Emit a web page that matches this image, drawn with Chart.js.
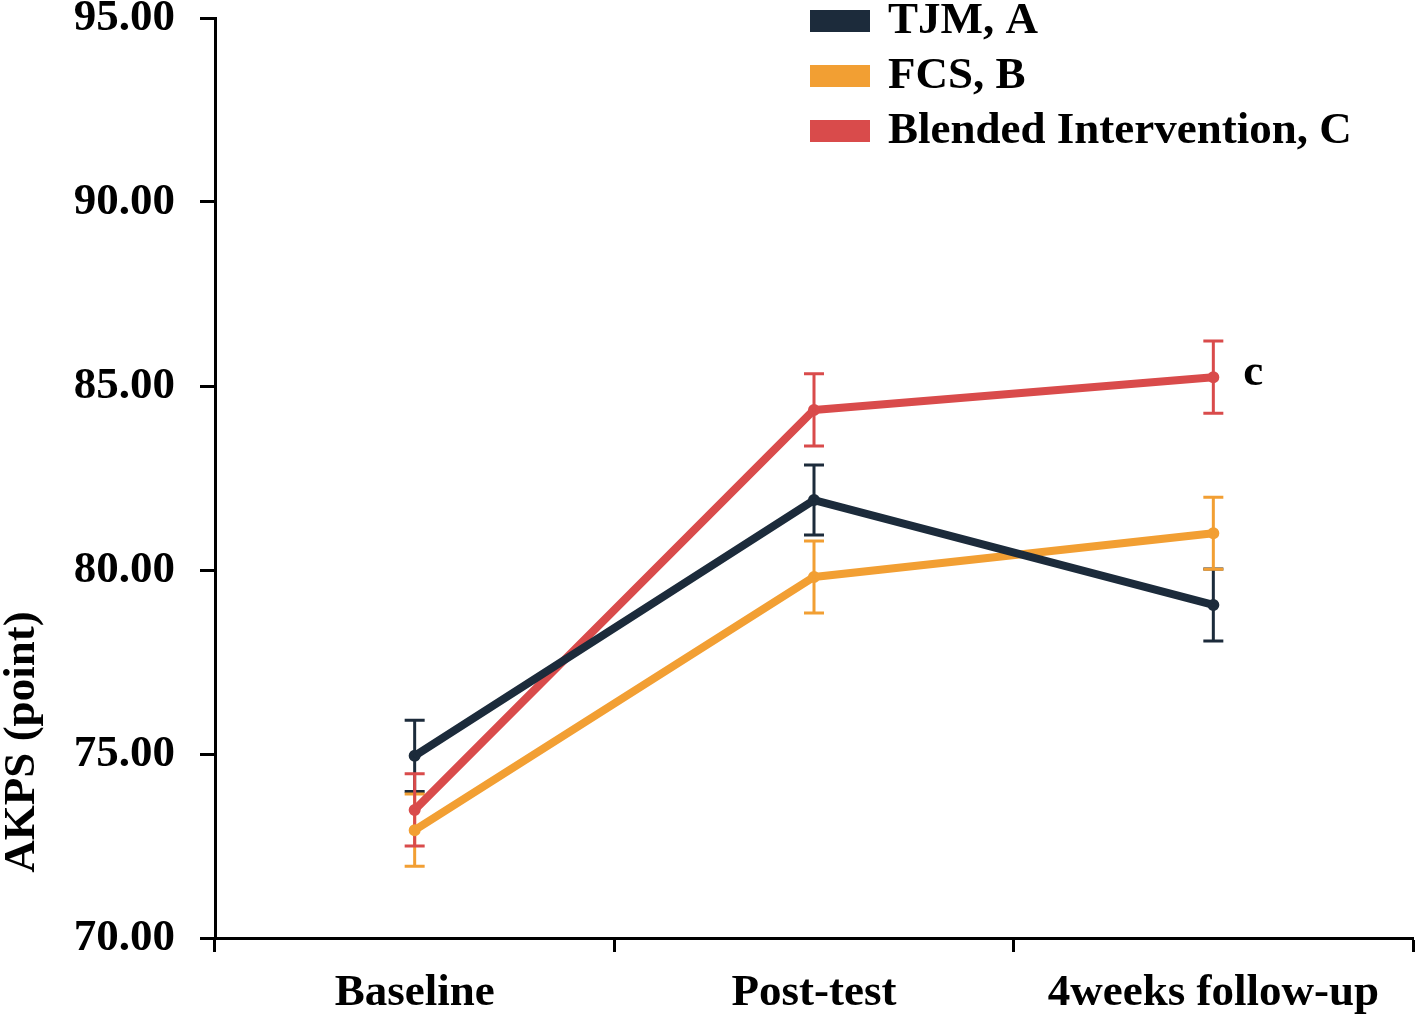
<!DOCTYPE html>
<html lang="en">
<head>
    <meta charset="UTF-8">
    <title>AKPS</title>
    <script src="https://cdn.jsdelivr.net/npm/chart.js"></script>
    <style>
        html, body { margin: 0; padding: 0; background: #ffffff; }
        #wrap { width: 1416px; height: 1016px; }
    </style>
</head>
<body>
    <div id="wrap">
        <canvas id="grafico" width="1416" height="1016"></canvas>
    </div>

<script>
    // dados
    const momentos = ['Baseline', 'Post-test', '4weeks follow-up'];
    const nomesSeries = ['TJM, A', 'FCS, B', 'Blended Intervention, C'];
    const coresSeries = ['#1c2b3b', '#f29f33', '#d94b4b'];

    const tjm = [74.95, 81.9, 79.05];
    const fcs = [72.93, 79.81, 81.0];
    const blended = [73.48, 84.35, 85.24];

    const erroTjm = [0.97, 0.95, 0.98];
    const erroFcs = [0.98, 0.98, 0.98];
    const erroBlended = [0.98, 0.98, 0.98];

    const ticksY = [70, 75, 80, 85, 90, 95];
    const anotacao = 'c';

    const fonte = '"Liberation Serif", "Times New Roman", serif';

    // barras de erro, desenhadas antes das linhas
    const barrasErro = {
        id: 'barrasErro',
        beforeDatasetsDraw(chart) {
            const ctx = chart.ctx;
            const x = chart.scales.x;
            const y = chart.scales.y;
            chart.data.datasets.forEach((ds) => {
                ctx.save();
                ctx.strokeStyle = ds.borderColor;
                ctx.lineWidth = 3;
                ds.data.forEach((v, i) => {
                    const px = x.getPixelForValue(i);
                    const topo = y.getPixelForValue(v + ds.erros[i]);
                    const base = y.getPixelForValue(v - ds.erros[i]);
                    ctx.beginPath();
                    ctx.moveTo(px, topo);
                    ctx.lineTo(px, base);
                    ctx.moveTo(px - 10, topo);
                    ctx.lineTo(px + 10, topo);
                    ctx.moveTo(px - 10, base);
                    ctx.lineTo(px + 10, base);
                    ctx.stroke();
                });
                ctx.restore();
            });
        }
    };

    // legenda, titulo do eixo y e a letra "c"
    const extras = {
        id: 'extras',
        afterDraw(chart) {
            const ctx = chart.ctx;
            const x = chart.scales.x;
            const y = chart.scales.y;
            ctx.save();
            ctx.font = 'bold 45px ' + fonte;
            ctx.fillStyle = '#000000';
            ctx.textBaseline = 'middle';

            chart.data.datasets.forEach((ds, i) => {
                const cy = 21 + i * 55;
                ctx.fillStyle = ds.borderColor;
                ctx.fillRect(810, cy - 11, 60, 22);
                ctx.fillStyle = '#000000';
                ctx.textAlign = 'left';
                ctx.fillText(ds.label, 888, cy);
            });

            const ult = blended.length - 1;
            ctx.textAlign = 'left';
            ctx.fillText(anotacao, x.getPixelForValue(ult) + 30, y.getPixelForValue(blended[ult]) - 4);

            ctx.translate(22, 742);
            ctx.rotate(-Math.PI / 2);
            ctx.textAlign = 'center';
            ctx.fillText('AKPS (point)', 0, 0);
            ctx.restore();
        }
    };

    const valores = [tjm, fcs, blended];
    const erros = [erroTjm, erroFcs, erroBlended];

    const datasets = nomesSeries.map((nome, i) => ({
        label: nome,
        data: valores[i],
        erros: erros[i],
        borderColor: coresSeries[i],
        backgroundColor: coresSeries[i],
        borderWidth: 8,
        borderCapStyle: 'round',
        borderJoinStyle: 'round',
        pointRadius: 2,
        pointHoverRadius: 2,
        tension: 0
    }));

    function semPadding(scale) {
        scale.paddingTop = 0;
        scale.paddingBottom = 0;
        scale.paddingLeft = 0;
        scale.paddingRight = 0;
    }

    new Chart(document.getElementById('grafico'), {
        type: 'line',
        data: {
            labels: momentos,
            datasets: datasets
        },
        options: {
            responsive: false,
            animation: false,
            events: [],
            layout: {
                autoPadding: false,
                padding: { top: 18, right: 3, left: 0, bottom: 0 }
            },
            plugins: {
                legend: { display: false },
                tooltip: { enabled: false }
            },
            scales: {
                x: {
                    offset: true,
                    grid: {
                        offset: true,
                        drawOnChartArea: false,
                        tickLength: 14,
                        tickWidth: 3,
                        tickColor: '#000000'
                    },
                    border: { color: '#000000', width: 3 },
                    ticks: {
                        color: '#000000',
                        padding: 14,
                        maxRotation: 0,
                        font: { family: fonte, size: 45, weight: 'bold' }
                    },
                    afterFit(scale) {
                        scale.height = 78;
                        semPadding(scale);
                    }
                },
                y: {
                    min: 70,
                    max: 95,
                    afterBuildTicks(scale) {
                        scale.ticks = ticksY.map(v => ({ value: v }));
                    },
                    grid: {
                        drawOnChartArea: false,
                        tickLength: 15,
                        tickWidth: 3,
                        tickColor: '#000000'
                    },
                    border: { color: '#000000', width: 3 },
                    ticks: {
                        color: '#000000',
                        padding: 25,
                        callback: (v) => Number(v).toFixed(2),
                        font: { family: fonte, size: 45, weight: 'bold' }
                    },
                    afterFit(scale) {
                        scale.width = 215;
                        semPadding(scale);
                    }
                }
            }
        },
        plugins: [barrasErro, extras]
    });
</script>
</body>
</html>
